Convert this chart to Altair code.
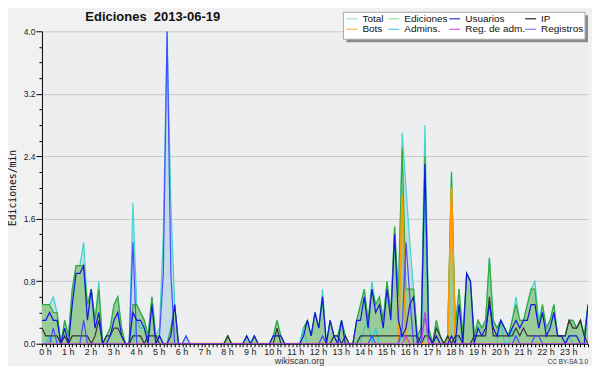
import altair as alt
import pandas as pd

# ---- data: 10-minute bins (145 points, 0h .. 24h), values in tenths of edits/min ----
total = [
    5, 5, 5, 6, 4, 0,
    3, 1, 7, 10, 10, 13,
    5, 7, 3, 8, 0, 1,
    2, 5, 6, 2, 0, 0,
    18, 5, 4, 3, 1, 6,
    1, 2, 14, 40, 18, 5,
    0, 0, 1, 0, 0, 0,
    0, 0, 0, 0, 0, 0,
    0, 1, 0, 0, 0, 0,
    1, 0, 1, 0, 0, 0,
    0, 1, 3, 1, 0, 0,
    0, 0, 0, 2, 3, 1,
    4, 2, 7, 0, 3, 1,
    1, 3, 1, 0, 0, 3,
    5, 7, 3, 8, 5, 6,
    3, 8, 4, 15, 6, 27,
    20, 13, 7, 1, 2, 28,
    2, 0, 3, 1, 0, 1,
    22, 2, 7, 1, 9, 8,
    1, 3, 2, 3, 11, 3,
    2, 3, 2, 1, 3, 6,
    3, 3, 5, 7, 8, 3,
    5, 2, 3, 5, 1, 1,
    1, 3, 3, 2, 3, 1,
    5]
ediciones = [
    5, 5, 5, 4, 4, 0,
    3, 1, 7, 10, 10, 10,
    5, 7, 3, 7, 0, 1,
    2, 5, 6, 2, 0, 0,
    5, 5, 4, 3, 1, 6,
    1, 1, 0, 0, 2, 5,
    0, 0, 0, 0, 0, 0,
    0, 0, 0, 0, 0, 0,
    0, 1, 0, 0, 0, 0,
    1, 0, 1, 0, 0, 0,
    0, 1, 3, 1, 0, 0,
    0, 0, 0, 2, 3, 1,
    4, 2, 6, 0, 3, 1,
    1, 3, 1, 0, 0, 3,
    5, 7, 3, 7, 5, 6,
    3, 8, 4, 15, 6, 25,
    7, 7, 7, 1, 2, 24,
    2, 0, 3, 1, 0, 1,
    22, 2, 7, 1, 9, 8,
    1, 3, 2, 3, 11, 3,
    2, 3, 2, 1, 3, 5,
    3, 3, 5, 7, 7, 2,
    5, 2, 3, 5, 1, 1,
    1, 3, 3, 2, 3, 1,
    5]
usuarios = [
    3, 3, 4, 3, 3, 0,
    2, 0, 5, 9, 9, 10,
    3, 7, 2, 4, 0, 0,
    1, 3, 4, 1, 0, 0,
    4, 3, 3, 2, 0, 5,
    0, 1, 0, 0, 1, 5,
    0, 0, 0, 0, 0, 0,
    0, 0, 0, 0, 0, 0,
    0, 0, 0, 0, 0, 0,
    1, 0, 1, 0, 0, 0,
    0, 1, 1, 1, 0, 0,
    0, 0, 0, 1, 3, 1,
    4, 2, 6, 0, 3, 1,
    0, 3, 0, 0, 0, 3,
    3, 6, 2, 7, 4, 5,
    2, 7, 3, 14, 3, 1,
    2, 5, 6, 0, 1, 23,
    1, 0, 1, 0, 0, 0,
    1, 0, 5, 0, 9, 8,
    0, 2, 1, 2, 5, 2,
    1, 3, 2, 1, 2, 3,
    2, 3, 3, 5, 5, 2,
    4, 1, 2, 4, 1, 1,
    0, 1, 1, 1, 0, 0,
    5]
ip = [
    2, 1, 1, 1, 1, 0,
    1, 0, 1, 1, 1, 1,
    1, 0, 1, 3, 0, 1,
    1, 2, 2, 1, 0, 0,
    1, 1, 1, 0, 1, 1,
    1, 0, 0, 0, 0, 0,
    0, 0, 0, 0, 0, 0,
    0, 0, 0, 0, 0, 0,
    0, 1, 0, 0, 0, 0,
    0, 0, 0, 0, 0, 0,
    0, 0, 2, 0, 0, 0,
    0, 0, 0, 0, 0, 0,
    0, 0, 0, 0, 0, 1,
    1, 0, 1, 0, 0, 0,
    1, 1, 1, 1, 1, 1,
    1, 1, 1, 1, 1, 1,
    1, 1, 1, 1, 0, 1,
    1, 0, 2, 1, 0, 1,
    0, 1, 1, 0, 0, 0,
    1, 1, 1, 1, 6, 1,
    1, 1, 1, 1, 1, 2,
    1, 2, 1, 1, 1, 1,
    1, 1, 1, 1, 1, 1,
    1, 3, 2, 2, 3, 1,
    0]
bots = [
    0, 0, 0, 0, 0, 0,  0, 0, 0, 0, 0, 0,  0, 0, 0, 0, 0, 0,  0, 0, 0, 0, 0, 0,
    0, 0, 0, 0, 0, 0,  0, 0, 0, 0, 0, 0,  0, 0, 0, 0, 0, 0,  0, 0, 0, 0, 0, 0,
    0, 0, 0, 0, 0, 0,  0, 0, 0, 0, 0, 0,  0, 0, 0, 0, 0, 0,  0, 0, 0, 0, 0, 0,
    0, 0, 0, 0, 0, 0,  0, 0, 0, 0, 0, 0,  0, 0, 0, 0, 0, 0,  0, 0, 0, 0, 0, 19,
    0, 0, 0, 0, 0, 0,  0, 0, 0, 0, 0, 0,  20, 0, 0, 0, 0, 0,  0, 0, 0, 0, 0, 0,
    0, 0, 0, 0, 0, 0,  0, 0, 0, 0, 0, 0,  0, 0, 0, 0, 0, 0,  0, 0, 0, 0, 0, 0,
    0]
admins = [
    0, 0, 1, 0, 0, 0,  0, 0, 0, 0, 0, 0,  0, 0, 0, 0, 0, 0,  0, 0, 0, 0, 0, 0,
    0, 3, 2, 2, 0, 0,  0, 0, 0, 0, 0, 0,  0, 0, 0, 0, 0, 0,  0, 0, 0, 0, 0, 0,
    0, 0, 0, 0, 0, 0,  0, 0, 0, 0, 0, 0,  0, 0, 0, 0, 0, 0,  0, 0, 0, 2, 0, 0,
    0, 0, 0, 0, 0, 0,  0, 0, 0, 0, 0, 0,  0, 2, 3, 0, 2, 0,  0, 0, 0, 0, 0, 1,
    0, 0, 0, 0, 0, 20, 0, 0, 1, 0, 0, 0,  0, 0, 1, 0, 0, 0,  0, 0, 0, 0, 0, 0,
    0, 3, 0, 0, 2, 0,  0, 0, 0, 0, 0, 0,  0, 0, 0, 0, 0, 0,  0, 1, 0, 0, 0, 0,
    0]
reg_adm = [
    0, 0, 0, 0, 0, 0,  0, 0, 0, 0, 0, 0,  0, 0, 0, 0, 0, 0,  0, 0, 0, 0, 0, 0,
    0, 0, 0, 0, 0, 0,  0, 0, 0, 0, 0, 0,  0, 0, 0, 0, 0, 0,  0, 0, 0, 0, 0, 0,
    0, 0, 0, 0, 0, 0,  0, 0, 0, 0, 0, 0,  0, 0, 0, 0, 0, 0,  0, 0, 0, 0, 0, 0,
    0, 0, 0, 0, 0, 0,  0, 0, 0, 0, 0, 0,  0, 0, 0, 0, 0, 0,  0, 0, 0, 0, 0, 0,
    1, 0, 0, 0, 0, 4,  0, 0, 0, 0, 0, 0,  0, 0, 0, 0, 0, 0,  0, 0, 0, 0, 0, 0,
    0, 0, 0, 0, 0, 0,  0, 0, 0, 0, 0, 0,  0, 0, 0, 0, 0, 0,  0, 0, 0, 0, 0, 0,
    0]
registros = [
    0, 0, 0, 2, 0, 0,  0, 0, 0, 0, 0, 3,  0, 0, 0, 0, 0, 0,  0, 0, 0, 0, 0, 0,
    13, 0, 0, 0, 0, 0, 0, 1, 9, 40, 9, 0, 0, 0, 1, 0, 0, 0,  0, 0, 0, 0, 0, 0,
    0, 0, 0, 0, 0, 0,  0, 0, 0, 0, 0, 0,  0, 0, 0, 0, 0, 0,  0, 0, 0, 0, 0, 0,
    0, 0, 1, 0, 0, 0,  0, 0, 0, 0, 0, 0,  0, 0, 0, 1, 0, 0,  0, 0, 0, 0, 0, 2,
    13, 6, 0, 0, 0, 4, 0, 0, 0, 0, 0, 0,  0, 0, 0, 0, 0, 0,  0, 0, 0, 0, 0, 0,
    0, 0, 0, 0, 0, 1,  0, 0, 0, 0, 1, 1,  0, 0, 0, 0, 0, 0,  0, 0, 0, 0, 0, 0,
    0]

legend_labels = ["Total", "Ediciones", "Usuarios", "IP",
                 "Bots", "Admins.", "Reg. de adm.", "Registros"]
legend_colors = ["#a6dede", "#99dd99", "#3333dd", "#222222",
                 "#ffaa55", "#55ccdd", "#dd55dd", "#8080f0"]
title_text = "Ediciones \u00a02013-06-19"
y_title = "Ediciones/min"

# ---- table ----
df = pd.DataFrame({
    "t": [k / 6 for k in range(len(total))],
    "total": [v / 10 for v in total],
    "ediciones": [v / 10 for v in ediciones],
    "usuarios": [v / 10 for v in usuarios],
    "ip": [v / 10 for v in ip],
    "bots": [v / 10 for v in bots],
    "admins": [v / 10 for v in admins],
    "reg_adm": [v / 10 for v in reg_adm],
    "registros": [v / 10 for v in registros],
})
one = pd.DataFrame({"a": [0]})

W, H = 547, 313
FONT = "Liberation Sans"

major_test = "abs(datum.value/0.8 - round(datum.value/0.8)) < 0.001"
yaxis = alt.Axis(
    title=y_title, titleFont="DejaVu Sans Mono", titleFontSize=9.8,
    titleFontWeight="normal", titleColor="#111", titleX=-24, titleY=H / 2,
    titleAngle=270, titleAlign="center", titleBaseline="bottom",
    values=[round(0.2 * k, 1) for k in range(21)],
    labelExpr=f"{major_test} ? format(datum.value, '.1f') : ''",
    labelFont=FONT, labelFontSize=8.5, labelColor="#222", labelPadding=1,
    tickSize={"condition": {"test": major_test, "value": 6}, "value": 3},
    tickColor="#000", domainColor="#000", grid=True, gridColor="#c8c8c8",
    gridOpacity={"condition": {"test": major_test, "value": 1}, "value": 0},
)
xaxis = alt.Axis(
    title=None, values=[k / 6 for k in range(145)],
    labelExpr="round(datum.value*6) % 6 == 0 && datum.value < 23.9 ? round(datum.value) + ' h' : ''",
    labelFont=FONT, labelFontSize=9, labelColor="#222", labelAlign="center",
    labelOffset=3, labelPadding=1, labelOverlap=False, labelBound=False,
    tickSize=3, tickColor="#000", domainColor="#000", grid=False,
)
X = alt.X("t:Q", scale=alt.Scale(domain=[0, 24], nice=False, zero=False), axis=xaxis)


def Y(col):
    return alt.Y(f"{col}:Q", scale=alt.Scale(domain=[0, 4], nice=False), axis=yaxis)


def area(col, fill):
    return alt.Chart(df).mark_area(color=fill, clip=True).encode(x=X, y=Y(col))


def line(col, color, w=1.2):
    return alt.Chart(df).mark_line(color=color, strokeWidth=w, clip=True).encode(x=X, y=Y(col))


layers = [
    area("total", "#c3dce5"),
    area("ediciones", "#99cc99"),
    line("total", "#44d4cc"),
    line("ediciones", "#33aa33"),
    line("bots", "#ff9900", 1.8),
    line("admins", "#33c6d8"),
    line("ip", "#333333"),
    line("registros", "#4a4aff"),
    line("usuarios", "#1515e0"),
    line("reg_adm", "#cc44dd"),
]

# ---- legend box (layout constants, plot coordinates) ----
box_x0, box_x1, box_y0, box_y1 = 302, 544, -19, 8
layers.append(alt.Chart(one).mark_rect(color="#8a8a8a").encode(
    x=alt.value(box_x0 + 3), x2=alt.value(box_x1 + 3),
    y=alt.value(box_y0 + 3), y2=alt.value(box_y1 + 3)))
layers.append(alt.Chart(one).mark_rect(color="#ffffff", stroke="#aaaaaa", strokeWidth=1).encode(
    x=alt.value(box_x0), x2=alt.value(box_x1), y=alt.value(box_y0), y2=alt.value(box_y1)))
col_sw = [305, 347, 408, 484]
col_tx = [321, 363, 424, 500]
row_y = [-12.5, -2]
for k, (lab, colr) in enumerate(zip(legend_labels, legend_colors)):
    c, r = k % 4, k // 4
    layers.append(alt.Chart(one).mark_rule(color=colr, strokeWidth=1.2).encode(
        x=alt.value(col_sw[c]), x2=alt.value(col_sw[c] + 11), y=alt.value(row_y[r])))
    layers.append(alt.Chart(one).mark_text(
        text=lab, font=FONT, fontSize=10, color="#111", align="left", baseline="middle").encode(
        x=alt.value(col_tx[c]), y=alt.value(row_y[r])))

# ---- texts ----
layers.append(alt.Chart(one).mark_text(
    text=title_text, font=FONT, fontSize=13, fontWeight="bold", color="#111",
    align="center", baseline="alphabetic").encode(x=alt.value(111), y=alt.value(-10)))
layers.append(alt.Chart(one).mark_text(
    text="wikiscan.org", font=FONT, fontSize=9, color="#333",
    align="center", baseline="alphabetic").encode(x=alt.value(258), y=alt.value(333)))
layers.append(alt.Chart(one).mark_text(
    text="CC BY-SA 3.0", font=FONT, fontSize=6.5, color="#333",
    align="right", baseline="alphabetic").encode(x=alt.value(547), y=alt.value(333)))

chart = alt.layer(*layers).properties(
    width=W, height=H,
    autosize=alt.AutoSizeParams(type="none"),
    padding={"left": 34, "top": 23, "right": 4, "bottom": 22},
    background="#f1f1f1",
).configure_view(fill="#eceef0", strokeWidth=0)

chart.save("out.html", embed_options={"renderer": "svg", "actions": False})
